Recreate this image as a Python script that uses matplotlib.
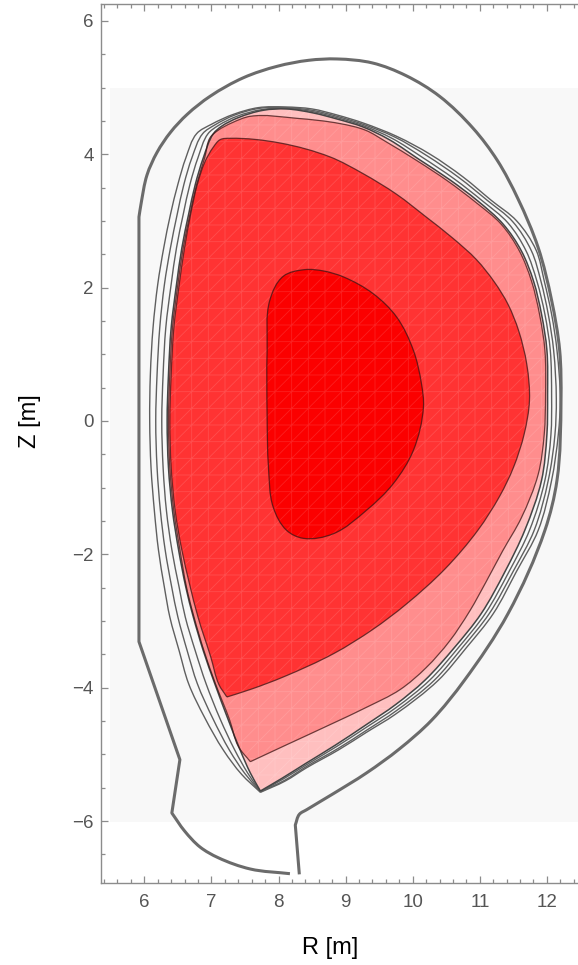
import numpy as np
import matplotlib.pyplot as plt
from matplotlib.path import Path
from matplotlib.patches import PathPatch
from matplotlib.ticker import MultipleLocator

# first wall, inboard divertor end -> inboard side -> top -> outboard side -> outboard end
wall_r = [8.17, 7.58, 7.10, 6.83, 6.60, 6.41, 6.53, 5.92, 5.92, 5.95, 6.04,
          6.19, 6.39, 6.64, 6.98, 7.48, 7.98, 8.45, 8.87, 9.40, 9.90, 10.40, 10.90,
          11.26, 11.57, 11.87, 12.07, 12.19, 12.21, 12.15, 11.97, 11.42, 10.77, 10.28,
          9.80, 9.31, 8.80, 8.42, 8.31, 8.25, 8.31]
wall_z = [-6.79, -6.72, -6.55, -6.39, -6.15, -5.88, -5.08, -3.31, 3.06, 3.25, 3.69,
          4.03, 4.33, 4.60, 4.87, 5.15, 5.32, 5.41, 5.43, 5.37, 5.18, 4.87, 4.39,
          3.91, 3.33, 2.60, 1.81, 1.06, 0.31, -0.89, -1.64, -2.89, -3.89, -4.49,
          -4.92, -5.28, -5.60, -5.83, -5.90, -6.06, -6.80]
wall_kinks = [5, 6, 7, 8, 39]

# last closed flux surface (edge of the coloured plasma)
lcfs_r = [7.73, 8.05, 8.40, 8.85, 9.30, 9.75, 10.18, 10.62, 11.02, 11.38, 11.67, 11.92, 12.00,
          12.01, 12.00, 11.92, 11.80, 11.62, 11.35, 10.97, 10.55, 10.10, 9.65, 9.26, 8.87,
          8.52, 8.12, 7.77, 7.40, 7.15, 7.03, 6.88, 6.76, 6.66, 6.56, 6.48, 6.40, 6.36,
          6.34, 6.36, 6.42, 6.51, 6.62, 6.73, 6.88, 7.05, 7.25, 7.43, 7.58, 7.73]
lcfs_z = [-5.55, -5.36, -5.14, -4.86, -4.56, -4.25, -3.89, -3.40, -2.89, -2.25, -1.64, -0.89, -0.20,
          0.40, 1.06, 1.60, 2.10, 2.55, 2.95, 3.30, 3.62, 3.92, 4.22, 4.41, 4.53,
          4.62, 4.68, 4.66, 4.55, 4.42, 4.31, 3.95, 3.55, 3.10, 2.60, 2.05, 1.40, 0.70,
          0.00, -0.70, -1.35, -1.93, -2.50, -2.94, -3.45, -3.94, -4.48, -4.94, -5.28, -5.55]

# scrape-off layer surfaces outside the separatrix
sol1_r = [7.73, 8.07, 8.41, 8.87, 9.30, 9.75, 10.25, 10.68, 11.08, 11.44, 11.74, 11.97, 12.06,
          12.07, 12.05, 11.97, 11.85, 11.69, 11.42, 11.04, 10.62, 10.15, 9.69, 9.26, 8.87,
          8.51, 8.11, 7.75, 7.38, 7.10, 6.95, 6.80, 6.68, 6.58, 6.48, 6.40, 6.32, 6.28,
          6.26, 6.28, 6.33, 6.41, 6.52, 6.61, 6.76, 6.92, 7.13, 7.35, 7.54, 7.73]
sol1_z = [-5.56, -5.37, -5.16, -4.88, -4.60, -4.30, -3.89, -3.40, -2.89, -2.25, -1.64, -0.89, -0.20,
          0.36, 1.06, 1.60, 2.10, 2.55, 2.97, 3.30, 3.63, 3.95, 4.24, 4.43, 4.55,
          4.64, 4.69, 4.67, 4.57, 4.43, 4.31, 3.95, 3.55, 3.10, 2.60, 2.05, 1.40, 0.70,
          0.00, -0.70, -1.35, -1.93, -2.50, -2.94, -3.45, -3.94, -4.47, -4.94, -5.28, -5.56]
sol2_r = [7.73, 8.09, 8.42, 8.89, 9.31, 9.75, 10.32, 10.74, 11.14, 11.50, 11.81, 12.02, 12.12,
          12.14, 12.10, 12.02, 11.91, 11.77, 11.49, 11.11, 10.69, 10.21, 9.73, 9.26, 8.87,
          8.50, 8.10, 7.72, 7.35, 7.05, 6.87, 6.71, 6.59, 6.49, 6.39, 6.30, 6.23, 6.19,
          6.17, 6.19, 6.24, 6.31, 6.41, 6.50, 6.64, 6.79, 7.02, 7.27, 7.50, 7.73]
sol2_z = [-5.56, -5.39, -5.18, -4.91, -4.64, -4.35, -3.89, -3.40, -2.89, -2.25, -1.64, -0.89, -0.20,
          0.33, 1.06, 1.60, 2.10, 2.55, 2.99, 3.31, 3.65, 3.98, 4.26, 4.45, 4.57,
          4.66, 4.70, 4.69, 4.59, 4.44, 4.31, 3.95, 3.55, 3.10, 2.60, 2.05, 1.40, 0.70,
          0.00, -0.70, -1.35, -1.93, -2.50, -2.94, -3.45, -3.94, -4.46, -4.94, -5.29, -5.56]
sol3_r = [7.73, 8.10, 8.42, 8.90, 9.31, 9.74, 10.38, 10.80, 11.20, 11.55, 11.87, 12.07, 12.17,
          12.20, 12.15, 12.07, 11.96, 11.84, 11.55, 11.17, 10.75, 10.26, 9.76, 9.26, 8.87,
          8.50, 8.10, 7.70, 7.33, 7.00, 6.78, 6.62, 6.50, 6.39, 6.29, 6.20, 6.13, 6.09,
          6.08, 6.10, 6.15, 6.21, 6.30, 6.38, 6.52, 6.66, 6.90, 7.18, 7.45, 7.73]
sol3_z = [-5.57, -5.40, -5.20, -4.93, -4.67, -4.40, -3.89, -3.40, -2.89, -2.25, -1.64, -0.89, -0.20,
          0.31, 1.06, 1.60, 2.10, 2.56, 3.00, 3.31, 3.66, 4.00, 4.27, 4.47, 4.59,
          4.68, 4.71, 4.70, 4.60, 4.45, 4.31, 3.95, 3.55, 3.10, 2.60, 2.05, 1.40, 0.70,
          0.00, -0.70, -1.35, -1.93, -2.50, -2.94, -3.45, -3.94, -4.45, -4.94, -5.30, -5.57]

# inner contours: outer pink band, main red region, hot core
pink_r = [7.58, 8.07, 8.82, 9.30, 9.81, 10.20, 10.55, 10.85, 11.10, 11.34, 11.62, 11.87, 11.96,
          11.98, 11.97, 11.89, 11.77, 11.59, 11.32, 10.94, 10.52, 10.07, 9.60, 9.30, 8.92,
          8.27, 7.58, 7.30, 7.10, 6.98, 6.90, 6.78, 6.68, 6.58, 6.50, 6.42, 6.38, 6.36,
          6.38, 6.44, 6.53, 6.63, 6.74, 6.89, 7.06, 7.27, 7.40, 7.58]
pink_z = [-5.11, -4.88, -4.53, -4.30, -4.03, -3.70, -3.30, -2.85, -2.40, -1.95, -1.45, -0.80, -0.20,
          0.40, 1.06, 1.60, 2.10, 2.55, 2.95, 3.28, 3.60, 3.90, 4.19, 4.36, 4.46,
          4.54, 4.57, 4.47, 4.36, 4.25, 3.95, 3.55, 3.10, 2.60, 2.05, 1.40, 0.70, 0.00,
          -0.70, -1.35, -1.93, -2.50, -2.94, -3.45, -3.94, -4.48, -4.88, -5.11]
mid_r = [7.23, 7.60, 8.07, 8.82, 9.40, 9.90, 10.48, 10.97, 11.30, 11.50, 11.66, 11.74, 11.70,
         11.58, 11.42, 11.22, 10.95, 10.60, 10.20, 9.76, 9.26, 8.77, 8.02, 7.28, 7.13, 7.03,
         6.90, 6.79, 6.69, 6.60, 6.52, 6.44, 6.40, 6.38, 6.40, 6.46, 6.56, 6.80, 6.99, 7.11,
         7.23]
mid_z = [-4.14, -4.02, -3.84, -3.49, -3.13, -2.75, -2.22, -1.64, -1.12, -0.70, -0.20, 0.31, 0.85,
         1.35, 1.75, 2.08, 2.42, 2.74, 3.06, 3.40, 3.71, 3.96, 4.17, 4.24, 4.22, 4.11,
         3.88, 3.55, 3.10, 2.60, 2.05, 1.40, 0.70, 0.00, -0.70, -1.35, -1.94, -2.94, -3.54, -3.95,
         -4.14]
core_r = [8.39, 8.07, 7.87, 7.83, 7.83, 7.85, 7.92, 8.12, 8.37, 8.82, 9.31, 9.71, 10.01,
          10.16, 10.13, 10.01, 9.76, 9.41, 8.97, 8.67, 8.39]
core_z = [2.27, 2.17, 1.81, 1.06, 0.06, -0.69, -1.29, -1.64, -1.76, -1.69, -1.34, -0.94, -0.44,
          0.21, 0.56, 1.06, 1.56, 1.91, 2.16, 2.25, 2.27]

# extent of the computational grid behind the contours
grid_r = [5.49, 12.6]
grid_z = [-6.01, 5.0]

fill_light = '#ffbfbf'
fill_pink = '#ff8d8d'
fill_red = '#ff3333'
fill_core = '#fb0000'


def unit(v):
    n = np.hypot(v[0], v[1])
    return v / n if n > 0 else v


def smooth_path(r, z, kinks=(), closed=False):
    """Bezier path through the points, sharp at the kink indices."""
    p = np.column_stack([r, z]).astype(float)
    if closed:
        p = p[:-1]
    n = len(p)
    t_in = np.zeros_like(p)
    t_out = np.zeros_like(p)
    for i in range(n):
        if closed:
            prev, nxt = p[i - 1], p[(i + 1) % n]
        else:
            prev = p[i - 1] if i > 0 else None
            nxt = p[i + 1] if i < n - 1 else None
        d_in = unit(p[i] - prev) if prev is not None else None
        d_out = unit(nxt - p[i]) if nxt is not None else None
        if d_in is None:
            d_in = d_out
        if d_out is None:
            d_out = d_in
        if i in kinks:
            t_in[i], t_out[i] = d_in, d_out
        else:
            t = unit(d_in + d_out)
            t_in[i], t_out[i] = t, t
    verts = [p[0]]
    codes = [Path.MOVETO]
    last = n if closed else n - 1
    for i in range(last):
        j = (i + 1) % n
        seg = np.hypot(*(p[j] - p[i]))
        verts += [p[i] + t_out[i] * seg / 3, p[j] - t_in[j] * seg / 3, p[j]]
        codes += [Path.CURVE4] * 3
    return Path(verts, codes)


plt.rcParams['font.family'] = ['Liberation Sans', 'DejaVu Sans']
plt.rcParams['hatch.linewidth'] = 0.6

fig = plt.figure(figsize=(5.78, 9.65), dpi=100)
ax = fig.add_axes([0.1739, 0.0853, 0.84, 0.9106])

ax.fill_between(grid_r, grid_z[0], grid_z[1], color='#f8f8f8', lw=0, zorder=0)

lcfs_path = smooth_path(lcfs_r, lcfs_z)
regions = [
    (lcfs_path, fill_light),
    (smooth_path(pink_r, pink_z), fill_pink),
    (smooth_path(mid_r, mid_z), fill_red),
    (smooth_path(core_r, core_z, closed=True), fill_core),
]
for k, (path, colour) in enumerate(regions):
    ax.add_patch(PathPatch(path, facecolor=colour, lw=0, zorder=1 + 0.1 * k))

# faint triangulation seams over the coloured region
ax.add_patch(PathPatch(lcfs_path, facecolor='none', edgecolor=(1, 1, 1, 0.13), lw=0,
                       hatch='+//', zorder=1.5))

for rr, zz in [(sol3_r, sol3_z), (sol2_r, sol2_z), (sol1_r, sol1_z)]:
    ax.add_patch(PathPatch(smooth_path(rr, zz), fill=False, edgecolor='#5f5f5f',
                           lw=1.0, zorder=2))
ax.add_patch(PathPatch(lcfs_path, fill=False, edgecolor='#444444', lw=1.1, zorder=2.1))
for path, _ in regions[1:]:
    ax.add_patch(PathPatch(path, fill=False, edgecolor=(0.24, 0.08, 0.08, 0.75),
                           lw=0.9, zorder=2.2))

ax.add_patch(PathPatch(smooth_path(wall_r, wall_z, kinks=wall_kinks), fill=False,
                       edgecolor='#6b6b6b', lw=2.2, joinstyle='round', capstyle='butt',
                       zorder=3))

ax.set_xlim(5.347, 12.583)
ax.set_ylim(-6.925, 6.255)

ax.xaxis.set_major_locator(MultipleLocator(1))
ax.xaxis.set_minor_locator(MultipleLocator(0.2))
ax.yaxis.set_major_locator(MultipleLocator(2))
ax.yaxis.set_minor_locator(MultipleLocator(0.5))
ax.tick_params(which='both', direction='in', top=True, right=True,
               color='#8c8c8c', width=0.9)
ax.tick_params(which='major', length=4.8, labelsize=13.5, labelcolor='#555555')
ax.tick_params(which='minor', length=3.0)
ax.tick_params(axis='x', pad=8)
ax.tick_params(axis='y', pad=5)
ax.set_yticks([-6, -4, -2, 0, 2, 4, 6])
ax.set_yticklabels(['\u22126', '\u22124', '\u22122', '0', '2', '4', '6'])
for sp in ax.spines.values():
    sp.set_color('#8c8c8c')
    sp.set_linewidth(1.0)

fig.text(330 / 578, 1 - 948 / 965, 'R [m]', ha='center', va='center', fontsize=17)
fig.text(30 / 578, 1 - 421 / 965, 'Z [m]', ha='center', va='center', rotation=90,
         fontsize=17)

fig.savefig('out.png', dpi=100)
